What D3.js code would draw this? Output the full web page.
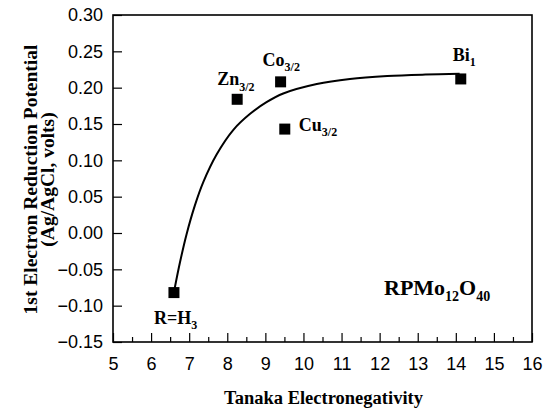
<!DOCTYPE html>
<html>
<head>
<meta charset="utf-8">
<script src="https://cdn.jsdelivr.net/npm/d3@7"></script>
<style>
  html, body { margin: 0; padding: 0; background: #fff; }
  svg { display: block; }
</style>
</head>
<body>
<svg id="chart" width="545" height="410"></svg>
<script>
// ---- data ----
const pointNames = ["R=H", "Zn", "Co", "Cu", "Bi"];
const pointSubs  = ["3", "3/2", "3/2", "3/2", "1"];
const pointX = [6.60, 8.26, 9.40, 9.51, 14.13];
const pointY = [-0.082, 0.184, 0.208, 0.143, 0.212];

// fitted curve
const curveX = [6.62, 6.76, 6.93, 7.15, 7.37, 7.72, 8.16, 8.60, 9.03, 9.47, 10.35, 11.22, 12.2, 13.2, 14.10];
const curveY = [-0.076, -0.040, -0.002, 0.038, 0.070, 0.108, 0.142, 0.164, 0.180, 0.192, 0.205, 0.212, 0.216, 0.218, 0.219];

const xTicks = [5, 6, 7, 8, 9, 10, 11, 12, 13, 14, 15, 16];
const xMinorTicks = [5.5, 6.5, 7.5, 8.5, 9.5, 10.5, 11.5, 12.5, 13.5, 14.5, 15.5];
const yTicks = [-0.15, -0.10, -0.05, 0.00, 0.05, 0.10, 0.15, 0.20, 0.25, 0.30];

const xTitle = "Tanaka Electronegativity";
const yTitle1 = "1st Electron Reduction Potential";
const yTitle2 = "(Ag/AgCl, volts)";

// ---- layout ----
const L = 113, R = 532, T = 15, B = 342;
const svg = d3.select("#chart");
const x = d3.scaleLinear().domain([5, 16]).range([L, R]);
const y = d3.scaleLinear().domain([-0.15, 0.30]).range([B, T]);

const tickFont = "'Liberation Sans', Arial, sans-serif";
const serif = "'Liberation Serif', 'Times New Roman', serif";

// x axis major
const gx = svg.append("g").attr("transform", `translate(0,${B})`)
  .call(d3.axisBottom(x).tickValues(xTicks).tickSize(-9).tickPadding(18).tickFormat(d3.format("d")));
gx.select(".domain").remove();
gx.selectAll(".tick line").attr("stroke", "#000").attr("stroke-width", 1.2);
gx.selectAll(".tick text").attr("font-family", tickFont).attr("font-size", 18).attr("fill", "#000").attr("dy", "0.71em").attr("y", 15);

// x axis minor
const gxm = svg.append("g").attr("transform", `translate(0,${B})`)
  .call(d3.axisBottom(x).tickValues(xMinorTicks).tickSize(-5).tickFormat(""));
gxm.select(".domain").remove();
gxm.selectAll(".tick line").attr("stroke", "#000").attr("stroke-width", 1.2);

// y axis
const gy = svg.append("g").attr("transform", `translate(${L},0)`)
  .call(d3.axisLeft(y).tickValues(yTicks).tickSize(-9).tickPadding(10).tickFormat(d3.format(".2f")));
gy.select(".domain").remove();
gy.selectAll(".tick line").attr("stroke", "#000").attr("stroke-width", 1.2);
gy.selectAll(".tick text").attr("font-family", tickFont).attr("font-size", 18).attr("fill", "#000");

// frame
svg.append("rect").attr("x", L).attr("y", T).attr("width", R - L).attr("height", B - T)
  .attr("fill", "none").attr("stroke", "#000").attr("stroke-width", 1.6);

// curve
const curveData = curveX.map((v, i) => [v, curveY[i]]);
svg.append("path").datum(curveData)
  .attr("d", d3.line().x(d => x(d[0])).y(d => y(d[1])).curve(d3.curveCatmullRom.alpha(0.5)))
  .attr("fill", "none").attr("stroke", "#000").attr("stroke-width", 2);

// points
const pts = pointX.map((v, i) => ({ x: v, y: pointY[i], name: pointNames[i], sub: pointSubs[i] }));
const S = 11;
svg.append("g").selectAll("rect").data(pts).join("rect")
  .attr("x", d => x(d.x) - S / 2).attr("y", d => y(d.y) - S / 2)
  .attr("width", S).attr("height", S).attr("fill", "#000");

// point labels (offsets in px relative to marker)
const labelDX = [-20, -20, -18, 14, -8];
const labelDY = [31, -14, -16, 2, -18];
function subText(sel, main, sub, size, subSize) {
  sel.attr("font-family", serif).attr("font-weight", "bold").attr("font-size", size).attr("fill", "#000");
  sel.append("tspan").text(main);
  sel.append("tspan").attr("font-size", subSize).attr("dy", size * 0.3).text(sub);
}
pts.forEach((d, i) => {
  const t = svg.append("text")
    .attr("x", x(d.x) + labelDX[i]).attr("y", y(d.y) + labelDY[i]);
  subText(t, d.name, d.sub, 18, 12);
});

// formula label
const f = svg.append("text").attr("x", 384).attr("y", 295)
  .attr("font-family", serif).attr("font-weight", "bold").attr("font-size", 22).attr("fill", "#000");
f.append("tspan").text("RPMo");
f.append("tspan").attr("font-size", 14).attr("dy", 6).text("12");
f.append("tspan").attr("dy", -6).text("O");
f.append("tspan").attr("font-size", 14).attr("dy", 6).text("40");

// axis titles
svg.append("text").attr("x", (L + R) / 2 + 1).attr("y", 404)
  .attr("text-anchor", "middle").attr("font-family", serif).attr("font-weight", "bold")
  .attr("font-size", 18.5).attr("fill", "#000").text(xTitle);

const yt = svg.append("text").attr("transform", `translate(37,${(T + B) / 2 + 1}) rotate(-90)`)
  .attr("text-anchor", "middle").attr("font-family", serif).attr("font-weight", "bold")
  .attr("font-size", 19.5).attr("fill", "#000");
yt.append("tspan").attr("x", 0).attr("dy", 0).text(yTitle1);
yt.append("tspan").attr("x", 0).attr("dy", 16.5).text(yTitle2);
</script>
</body>
</html>
